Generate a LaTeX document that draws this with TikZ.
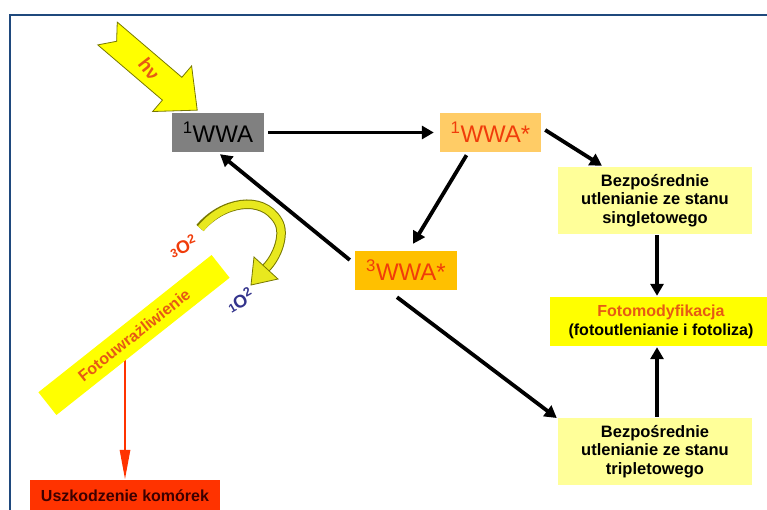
\documentclass[tikz,border=0pt]{standalone}
\usepackage{fontspec}
\setmainfont{Liberation Sans}
\usetikzlibrary{arrows.meta,calc,backgrounds}
\definecolor{frameblue}{RGB}{31,73,125}
\definecolor{wgray}{RGB}{128,128,128}
\definecolor{lorange}{RGB}{255,204,102}
\definecolor{gold}{RGB}{255,192,0}
\definecolor{redor}{RGB}{240,60,10}
\definecolor{paleyel}{RGB}{255,255,153}
\definecolor{brightyel}{RGB}{255,255,0}
\definecolor{cellred}{RGB}{255,51,0}
\definecolor{navy}{RGB}{51,51,140}
\definecolor{olivec}{RGB}{120,120,0}
\definecolor{curvey}{RGB}{232,232,30}
\definecolor{fmorange}{RGB}{230,90,20}
\definecolor{darktext}{RGB}{60,0,0}
\begin{document}
\begin{tikzpicture}[x=1pt,y=-1pt,
  box/.style={draw=none, inner sep=0pt, align=center},
  wwa/.style={box, minimum height=39pt, font=\fontsize{24}{26}\selectfont},
  txtbox/.style={box, minimum width=194pt, minimum height=67pt, fill=paleyel, font=\bfseries\fontsize{16.5}{18.5}\selectfont},
  arr/.style={line width=3.8pt, -{Triangle[length=12pt,width=13pt]}},
  redarr/.style={cellred, line width=2.8pt, -{Triangle[length=30pt,width=10pt]}}]
\useasboundingbox (0,0) rectangle (767,509);
\clip (0,0) rectangle (767,509);
% frame
\draw[frameblue, line width=2.5pt] (10,512) -- (10,15) -- (770,15);
% nodes
\node[wwa, fill=wgray, minimum width=92pt] (w1) at (218,132.5) {\textsuperscript{1}WWA};
\node[wwa, fill=lorange, text=redor, minimum width=101pt] (w1s) at (490.5,132.5) {\textsuperscript{1}WWA*};
\node[wwa, fill=gold, text=redor, minimum width=102pt] (w3s) at (406,270.5) {\textsuperscript{3}WWA*};
\node[txtbox] (s) at (655,200.5) {Bezpośrednie\\utlenianie ze stanu\\singletowego};
\node[box, fill=brightyel, minimum width=222pt, minimum height=49pt, font=\bfseries\fontsize{16}{19}\selectfont] (fm) at (661,321.5) {\textcolor{fmorange}{Fotomodyfikacja}\\(fotoutlenianie i fotoliza)};
\node[txtbox] (t) at (655,451.5) {Bezpośrednie\\utlenianie ze stanu\\tripletowego};
\node[box, fill=cellred, text=darktext, minimum width=190pt, minimum height=32pt, font=\bfseries\fontsize{16}{18}\selectfont] (u) at (125,496) {Uszkodzenie komórek};
\node[box, fill=brightyel, rotate=38.4, minimum width=221pt, minimum height=29pt, text=fmorange, font=\bfseries\fontsize{16}{18}\selectfont] (bar) at (134,335) {Fotouwrażliwienie};
\begin{scope}[on background layer]
\draw[redarr] (bar.center -| u.north) -- (u.north);
\end{scope}
% connectors
\draw[arr] ([xshift=4pt]w1.east) -- ([xshift=-6pt]w1s.west);
\draw[arr] ([shift={(4,-2.5)}]w1s.east) -- ([shift={(-53,-1)}]s.north);
\draw[arr] ([shift={(-24,3)}]w1s.south) -- ([shift={(7,-7)}]w3s.north);
\draw[arr] ([shift={(-5,-10.5)}]w3s.west) -- ([shift={(2,2)}]w1.south);
\draw[arr] ([shift={(-9,7)}]w3s.south) -- ([shift={(-1,-33.5)}]t.west);
\draw[arr] ([shift={(2,1)}]s.south) -- ([shift={(-4,-1)}]fm.north);
\draw[arr] ([shift={(2,-1)}]t.north) -- ([shift={(-4,1)}]fm.south);
% h nu block arrow
\begin{scope}[shift={(107.5,33.5)}, rotate=-40.5]
  \draw[fill=brightyel, draw=olivec, line width=0.8pt] (0,-15) -- (85,-15) -- (85,-30) -- (118,0) -- (85,30) -- (85,15) -- (0,15) -- (12,0) -- cycle;
  \node[text=fmorange, font=\bfseries\fontsize{19}{20}\selectfont, rotate=-52] (hv) at (55,0) {hν};
\end{scope}
% curved arrow 3O2 -> 1O2
\draw[olivec, line width=9.5pt] (200,228) .. controls (222,202) and (262,194) .. (278,221) .. controls (286,234) and (277,257) .. (266,268);
\draw[curvey, line width=7.5pt] (200.8,228.6) .. controls (222,202) and (262,194) .. (278,221) .. controls (286,234) and (277,257) .. (266,268);
\draw[fill=curvey, draw=olivec, line width=0.8pt] (254,257) -- (278,279) -- (251,285) -- cycle;
\node[text=redor, rotate=22, font=\bfseries\fontsize{18}{20}\selectfont] (o3) at (183,246) {{\fontsize{12}{12}\selectfont 3}O\textsuperscript{2}};
\node[text=navy, rotate=30, font=\bfseries\fontsize{18}{20}\selectfont] (o1) at (240,300) {{\fontsize{12}{12}\selectfont 1}O\textsuperscript{2}};
\end{tikzpicture}
\end{document}
